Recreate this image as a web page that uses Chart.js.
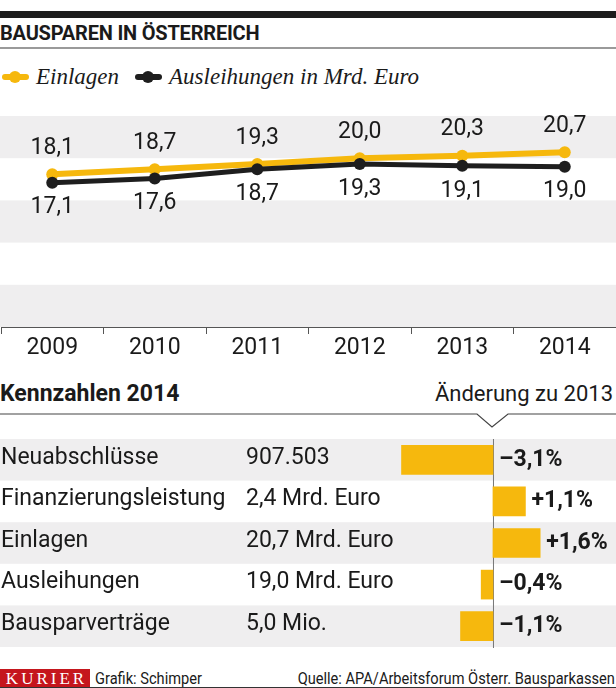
<!DOCTYPE html>
<html lang="de">
<head>
<meta charset="utf-8">
<title>Bausparen in Österreich</title>
<script src="https://cdn.jsdelivr.net/npm/chart.js@4.4.1/dist/chart.umd.min.js"></script>
<style>
  html, body { margin: 0; padding: 0; background: #fff; }
  body { width: 616px; height: 688px; position: relative; overflow: hidden; font-family: Roboto, sans-serif; color: #1a1a1a; }
  .abs { position: absolute; white-space: nowrap; }
  #topBar { left: 0; top: 11px; width: 616px; height: 7px; background: #1d1d1d; }
  #title { left: 0; top: 23px; font-weight: 700; font-size: 20px; line-height: 21px; letter-spacing: -0.2px; }
  #titleRule { left: 0; top: 47px; width: 616px; height: 2px; background: #9a9a9a; }
  #legend { left: 2px; top: 62px; height: 30px; display: flex; align-items: center; font-family: "Liberation Serif", serif; font-style: italic; font-size: 23px; line-height: 30px; }
  .key { position: relative; width: 27px; height: 6px; border-radius: 3px; margin-right: 7px; }
  .key::after { content: ''; position: absolute; left: 7px; top: -3px; width: 12px; height: 12px; border-radius: 50%; background: inherit; }
  .legendItem { display: flex; align-items: center; margin-right: 16px; }
  #lineWrap { left: 0; top: 100px; width: 616px; height: 260px; }
  #kennzahlen { left: 0; top: 380px; font-weight: 700; font-size: 23px; line-height: 28px; }
  #aenderung { right: 3px; top: 380px; font-size: 22px; line-height: 28px; }
  #sep { left: 0; top: 405px; }
  #barWrap { left: 0; top: 430px; width: 616px; height: 220px; }
  #logo { left: 0; top: 669px; width: 90px; height: 18px; background: #c5161d; color: #fff; font-family: "Liberation Serif", serif; font-size: 17px; line-height: 19px; letter-spacing: 3px; text-align: center; text-indent: 3px; }
  #credit { left: 95px; top: 668px; font-size: 17px; line-height: 20px; transform: scaleX(0.86); transform-origin: left center; }
  #source { right: 1px; top: 668px; font-size: 17px; line-height: 20px; transform: scaleX(0.86); transform-origin: right center; }
  #bottomRule { left: 0; top: 687px; width: 616px; height: 1px; background: #333; }
</style>
</head>
<body>
<div class="abs" id="topBar"></div>
<div class="abs" id="title">BAUSPAREN IN ÖSTERREICH</div>
<div class="abs" id="titleRule"></div>
<div class="abs" id="legend"></div>
<div class="abs" id="lineWrap"><canvas id="lineChart"></canvas></div>

<div class="abs" id="kennzahlen">Kennzahlen 2014</div>
<div class="abs" id="aenderung">Änderung zu 2013</div>
<svg class="abs" id="sep" width="616" height="26">
  <polyline points="0,9 477,9 492,22 508,9 616,9" fill="none" stroke="#444" stroke-width="1.2"/>
</svg>
<div class="abs" id="barWrap"><canvas id="barChart"></canvas></div>

<div class="abs" id="logo">KURIER</div>
<div class="abs" id="credit">Grafik: Schimper</div>
<div class="abs" id="source">Quelle: APA/Arbeitsforum Österr. Bausparkassen</div>
<div class="abs" id="bottomRule"></div>

<script>
// Daten Liniendiagramm (Mrd. Euro)
const years = ['2009', '2010', '2011', '2012', '2013', '2014'];
const einlagen = [18.1, 18.7, 19.3, 20.0, 20.3, 20.7];
const ausleihungen = [17.1, 17.6, 18.7, 19.3, 19.1, 19.0];
const seriesNames = ['Einlagen', 'Ausleihungen in Mrd. Euro'];

// Kennzahlen 2014
const rowLabels = ['Neuabschlüsse', 'Finanzierungsleistung', 'Einlagen', 'Ausleihungen', 'Bausparverträge'];
const rowValues = ['907.503', '2,4 Mrd. Euro', '20,7 Mrd. Euro', '19,0 Mrd. Euro', '5,0 Mio.'];
const changes = [-3.1, 1.1, 1.6, -0.4, -1.1];

const YELLOW = '#f6b80d';
const BLACK = '#1e1e1e';
const BAND = '#efeeef';
const TEXT = '#1a1a1a';

Chart.defaults.font.family = 'Roboto';
Chart.defaults.color = TEXT;

const fmt = v => v.toFixed(1).replace('.', ',');

// Legende
const legendEl = document.getElementById('legend');
[YELLOW, BLACK].forEach((c, i) => {
  const item = document.createElement('div');
  item.className = 'legendItem';
  item.innerHTML = '<span class="key" style="background:' + c + '"></span><span>' + seriesNames[i] + '</span>';
  legendEl.appendChild(item);
});

// graue Bänder hinter dem Liniendiagramm
const bandsPlugin = {
  id: 'bands',
  beforeDraw(chart) {
    const { ctx, scales: { y } } = chart;
    ctx.save();
    ctx.fillStyle = BAND;
    [[20, 25], [10, 15], [0, 5]].forEach(([a, b]) => {
      const top = y.getPixelForValue(b);
      const bottom = y.getPixelForValue(a);
      ctx.fillRect(0, top, chart.width, bottom - top);
    });
    ctx.restore();
  }
};

// Werte an den Punkten
const pointLabels = {
  id: 'pointLabels',
  afterDatasetsDraw(chart) {
    const ctx = chart.ctx;
    ctx.save();
    ctx.font = '23px Roboto';
    ctx.fillStyle = TEXT;
    ctx.textAlign = 'center';
    ctx.textBaseline = 'middle';
    chart.data.datasets.forEach((ds, i) => {
      const meta = chart.getDatasetMeta(i);
      const dy = ds.labelAbove ? -26 : 25;
      meta.data.forEach((pt, j) => {
        ctx.fillText(fmt(ds.data[j]), pt.x, pt.y + dy);
      });
    });
    ctx.restore();
  }
};

new Chart(document.getElementById('lineChart'), {
  type: 'line',
  data: {
    labels: years,
    datasets: [
      {
        label: seriesNames[0],
        data: einlagen,
        borderColor: YELLOW,
        backgroundColor: YELLOW,
        borderWidth: 6,
        pointRadius: 6,
        pointBorderWidth: 0,
        labelAbove: true,
        order: 2
      },
      {
        label: seriesNames[1],
        data: ausleihungen,
        borderColor: BLACK,
        backgroundColor: BLACK,
        borderWidth: 5,
        pointRadius: 6,
        pointBorderWidth: 0,
        labelAbove: false,
        order: 1
      }
    ]
  },
  options: {
    responsive: true,
    maintainAspectRatio: false,
    animation: false,
    layout: { autoPadding: false, padding: { top: 16, left: 1, right: 0, bottom: 0 } },
    plugins: { legend: { display: false }, tooltip: { enabled: false } },
    scales: {
      x: {
        type: 'category',
        offset: true,
        grid: { offset: true, drawOnChartArea: false, tickLength: 7, color: '#555' },
        border: { display: true, color: '#555', width: 1 },
        ticks: { font: { size: 23 }, color: TEXT, padding: 0, maxRotation: 0 },
        afterFit: s => { s.height = 33; }
      },
      y: { display: false, min: 0, max: 25 }
    }
  },
  plugins: [bandsPlugin, pointLabels]
});

// Tabelle: Zeilenbänder, Texte, Nulllinie und Prozentwerte
const tablePlugin = {
  id: 'table',
  beforeDatasetsDraw(chart) {
    const { ctx, chartArea, scales: { x, y } } = chart;
    const rowH = chartArea.height / rowLabels.length;
    ctx.save();
    ctx.fillStyle = BAND;
    rowLabels.forEach((_, i) => {
      if (i % 2 === 0) {
        const cy = y.getPixelForValue(i);
        ctx.fillRect(0, cy - rowH / 2, chart.width, rowH);
      }
    });
    ctx.font = '23px Roboto';
    ctx.fillStyle = TEXT;
    ctx.textBaseline = 'middle';
    ctx.textAlign = 'left';
    rowLabels.forEach((lab, i) => {
      const cy = y.getPixelForValue(i) - 2;
      ctx.fillText(lab, 1, cy);
      ctx.fillText(rowValues[i], 246, cy);
    });
    const x0 = x.getPixelForValue(0);
    ctx.strokeStyle = '#777';
    ctx.lineWidth = 1;
    ctx.beginPath();
    ctx.moveTo(x0 + 0.5, chartArea.top);
    ctx.lineTo(x0 + 0.5, chartArea.bottom + 1);
    ctx.stroke();
    ctx.restore();
  },
  afterDatasetsDraw(chart) {
    const { ctx, scales: { x } } = chart;
    const x0 = x.getPixelForValue(0);
    const meta = chart.getDatasetMeta(0);
    ctx.save();
    ctx.font = 'bold 23px Roboto';
    ctx.fillStyle = TEXT;
    ctx.textBaseline = 'middle';
    ctx.textAlign = 'left';
    meta.data.forEach((bar, i) => {
      const v = changes[i];
      const txt = (v < 0 ? '\u2013' : '+') + fmt(Math.abs(v)) + '%';
      ctx.fillText(txt, Math.max(x0, bar.x) + 6, bar.y);
    });
    ctx.restore();
  }
};

new Chart(document.getElementById('barChart'), {
  type: 'bar',
  data: {
    labels: rowLabels,
    datasets: [{
      data: changes,
      backgroundColor: YELLOW,
      barThickness: 29,
      borderWidth: 0
    }]
  },
  options: {
    indexAxis: 'y',
    responsive: true,
    maintainAspectRatio: false,
    animation: false,
    layout: { autoPadding: false, padding: { top: 9, bottom: 3, left: 0, right: 0 } },
    plugins: { legend: { display: false }, tooltip: { enabled: false } },
    scales: {
      x: { display: false, min: -16.71, max: 4.17 },
      y: { display: false }
    }
  },
  plugins: [tablePlugin]
});
</script>
</body>
</html>
